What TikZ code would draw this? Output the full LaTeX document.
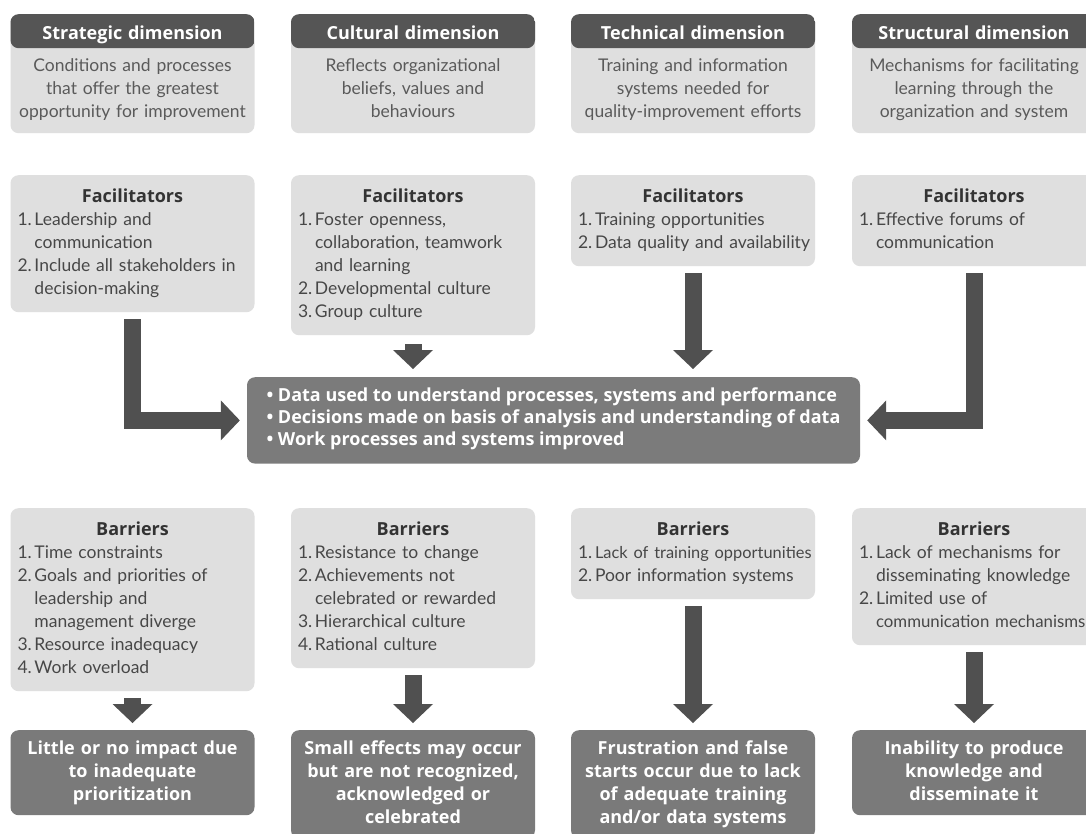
\documentclass[tikz,border=0pt]{standalone}
\usepackage{fontspec}
\setmainfont{Lato}
\newfontfamily\hb{Open Sans}
\usetikzlibrary{arrows.meta}

\definecolor{bandc}{HTML}{555555}
\definecolor{lightc}{HTML}{DFDFDF}
\definecolor{descc}{HTML}{5A5A5A}
\definecolor{itemc}{HTML}{474747}
\definecolor{titlec}{HTML}{333333}
\definecolor{centc}{HTML}{7B7B7B}
\definecolor{resc}{HTML}{7A7A7A}
\definecolor{arrowc}{HTML}{505050}

% list lines with a hanging number
\newcommand{\nitem}[2]{\makebox[17pt][l]{#1}\mbox{#2}}
\newcommand{\nline}[1]{\hspace*{17pt}\mbox{#1}}
\newcommand{\tight}[2]{{\fontsize{#1}{23}\selectfont #2}}
\newcommand{\boxtitle}[1]{\makebox[230pt][c]{\hb\bfseries\fontsize{18}{23}\selectfont\color{titlec}#1}}

\tikzset{
  every node/.style={font=\fontsize{17.5}{23}\selectfont},
  dimbox/.style={fill=lightc, rounded corners=8pt, anchor=north, text width=236pt,
    inner xsep=4pt, inner ysep=9pt, align=center, text=descc,
    execute at begin node=\strut, execute at end node=\strut,
    path picture={\fill[bandc] (path picture bounding box.north west) rectangle
      ([yshift=-34pt]path picture bounding box.north east);}},
  listbox/.style={fill=lightc, rounded corners=8pt, anchor=north, text width=230pt,
    inner xsep=7pt, inner ysep=11pt, align=left, text=itemc,
    execute at begin node=\strut, execute at end node=\strut},
  resbox/.style={fill=resc, rounded corners=8pt, anchor=north, text width=230pt,
    inner xsep=7pt, inner ysep=8pt, align=center, text=white,
    font=\hb\bfseries\fontsize{18}{23}\selectfont,
    execute at begin node=\strut, execute at end node=\strut},
  centbox/.style={fill=centc, rounded corners=8pt, anchor=north, minimum width=613pt,
    inner ysep=11pt, align=left, text=white,
    font=\hb\bfseries\fontsize{18}{22}\selectfont,
    execute at begin node=\strut, execute at end node=\strut},
  flow/.style={draw=arrowc, line width=17pt,
    -{Triangle[width=40pt, length=19pt, line width=0pt]}}
}

\begin{document}
\begin{tikzpicture}[x=1pt, y=-1pt]
    \path[use as bounding box, fill=white] (0,0) rectangle (1086,833);

    % Dimensions
    \node[dimbox] (dim1) at (132.5,14) {{\hb\bfseries\fontsize{18}{23}\selectfont\color{white}Strategic dimension}\\[9pt]
        Conditions and processes\\ that offer the greatest\\ opportunity for improvement};
    \node[dimbox] (dim2) at (413,14) {{\hb\bfseries\fontsize{18}{23}\selectfont\color{white}Cultural dimension}\\[9pt]
        Reflects organizational\\ beliefs, values and\\ behaviours};
    \node[dimbox] (dim3) at (693,14) {{\hb\bfseries\fontsize{18}{23}\selectfont\color{white}Technical dimension}\\[9pt]
        Training and information\\ systems needed for\\ quality-improvement efforts};
    \node[dimbox] (dim4) at (974,14) {{\hb\bfseries\fontsize{18}{23}\selectfont\color{white}Structural dimension}\\[9pt]
        Mechanisms for facilitating\\ learning through the\\ organization and system};

    % Facilitators
    \node[listbox] (fac1) at (132.5,175) {\boxtitle{Facilitators}\\
        \nitem{1.}{Leadership and}\\ \nline{communication}\\
        \nitem{2.}{Include all stakeholders in}\\ \nline{decision-making}};
    \node[listbox] (fac2) at (413,175) {\boxtitle{Facilitators}\\
        \nitem{1.}{Foster openness,}\\ \nline{collaboration, teamwork}\\ \nline{and learning}\\
        \nitem{2.}{Developmental culture}\\
        \nitem{3.}{Group culture}};
    \node[listbox] (fac3) at (693,175) {\boxtitle{Facilitators}\\
        \nitem{1.}{Training opportunities}\\
        \nitem{2.}{Data quality and availability}};
    \node[listbox] (fac4) at (974,175) {\boxtitle{Facilitators}\\
        \nitem{1.}{Effective forums of}\\ \nline{communication}};

    % Outcome in the middle
    \node[centbox] (cent) at (553.5,377) {\textbullet\ Data used to understand processes, systems and performance\\
        \textbullet\ Decisions made on basis of analysis and understanding of data\\
        \textbullet\ Work processes and systems improved};

    \draw[flow] ([yshift=-7pt]fac1.south) |- ([xshift=-7pt]cent.west);
    \draw[flow] ([yshift=-9pt]fac2.south) -- ([yshift=8pt]fac2.south |- cent.north);
    \draw[flow] ([yshift=-7pt]fac3.south) -- ([yshift=8pt]fac3.south |- cent.north);
    \draw[flow] ([yshift=-7pt]fac4.south) |- ([xshift=7pt]cent.east);

    % Barriers
    \node[listbox] (bar1) at (132.5,508) {\boxtitle{Barriers}\\
        \nitem{1.}{Time constraints}\\
        \nitem{2.}{Goals and priorities of}\\ \nline{leadership and}\\ \nline{management diverge}\\
        \nitem{3.}{Resource inadequacy}\\
        \nitem{4.}{Work overload}};
    \node[listbox] (bar2) at (413,508) {\boxtitle{Barriers}\\
        \nitem{1.}{Resistance to change}\\
        \nitem{2.}{Achievements not}\\ \nline{celebrated or rewarded}\\
        \nitem{3.}{Hierarchical culture}\\
        \nitem{4.}{Rational culture}};
    \node[listbox] (bar3) at (693,508) {\boxtitle{Barriers}\\
        \nitem{1.}{\tight{16.4}{Lack of training opportunities}}\\
        \nitem{2.}{Poor information systems}};
    \node[listbox] (bar4) at (974,508) {\boxtitle{Barriers}\\
        \nitem{1.}{Lack of mechanisms for}\\ \nline{disseminating knowledge}\\
        \nitem{2.}{Limited use of}\\ \nline{\tight{16.8}{communication mechanisms}}};

    % Results of the barriers
    \node[resbox] (res1) at (132.5,730) {Little or no impact due\\ to inadequate\\ prioritization};
    \node[resbox] (res2) at (413,730) {Small effects may occur\\ but are not recognized,\\ acknowledged or\\ celebrated};
    \node[resbox] (res3) at (693,730) {Frustration and false\\ starts occur due to lack\\ of adequate training\\ and/or data systems};
    \node[resbox] (res4) at (974,730) {Inability to produce\\ knowledge and\\ disseminate it};

    \draw[flow] ([yshift=-7pt]bar1.south) -- ([yshift=7pt]res1.north);
    \draw[flow] ([yshift=-7pt]bar2.south) -- ([yshift=7pt]res2.north);
    \draw[flow] ([yshift=-7pt]bar3.south) -- ([yshift=7pt]res3.north);
    \draw[flow] ([yshift=-7pt]bar4.south) -- ([yshift=7pt]res4.north);

\end{tikzpicture}
\end{document}
